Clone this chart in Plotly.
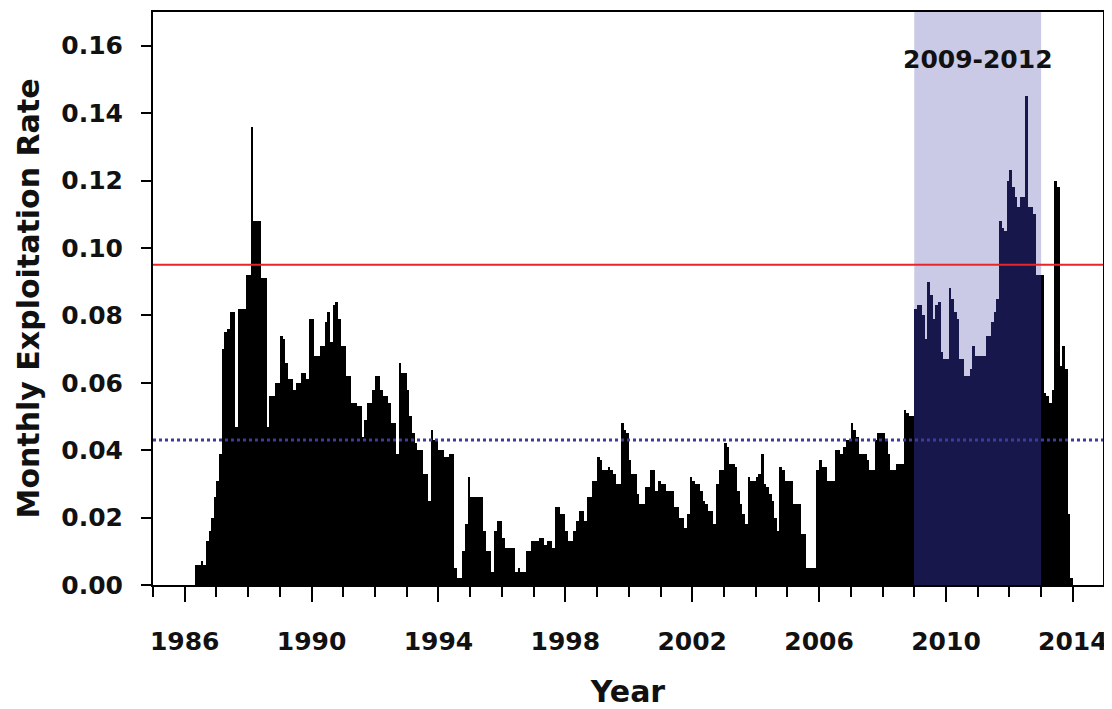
"""Taxa mensal de exploracao, 1986-2013, com o periodo 2009-2012 destacado."""

import plotly.graph_objects as go


YEARS = list(range(1986, 2014))

RATE_1986 = [0, 0, 0, 0, 0.006, 0.006, 0.007, 0.006, 0.013, 0.016, 0.020, 0.026]
RATE_1987 = [0.031, 0.039, 0.070, 0.075, 0.076, 0.081, 0.081, 0.047, 0.082, 0.082, 0.082, 0.092]
RATE_1988 = [0.092, 0.136, 0.108, 0.108, 0.108, 0.091, 0.091, 0.047, 0.056, 0.056, 0.060, 0.060]
RATE_1989 = [0.074, 0.073, 0.066, 0.061, 0.061, 0.058, 0.060, 0.060, 0.063, 0.063, 0.061, 0.079]
RATE_1990 = [0.079, 0.068, 0.068, 0.071, 0.071, 0.078, 0.081, 0.072, 0.083, 0.084, 0.079, 0.071]
RATE_1991 = [0.071, 0.062, 0.062, 0.054, 0.054, 0.053, 0.053, 0.044, 0.049, 0.054, 0.054, 0.058]
RATE_1992 = [0.062, 0.062, 0.058, 0.056, 0.056, 0.054, 0.048, 0.048, 0.039, 0.066, 0.063, 0.063]
RATE_1993 = [0.058, 0.050, 0.045, 0.042, 0.040, 0.040, 0.033, 0.033, 0.025, 0.046, 0.043, 0.043]
RATE_1994 = [0.040, 0.040, 0.038, 0.038, 0.039, 0.039, 0.005, 0.002, 0.002, 0.010, 0.018, 0.032]
RATE_1995 = [0.026, 0.026, 0.026, 0.026, 0.026, 0.016, 0.010, 0.010, 0.004, 0.016, 0.019, 0.019]
RATE_1996 = [0.014, 0.011, 0.011, 0.011, 0.011, 0.004, 0.005, 0.004, 0.004, 0.010, 0.010, 0.013]
RATE_1997 = [0.013, 0.013, 0.014, 0.014, 0.012, 0.013, 0.013, 0.011, 0.023, 0.023, 0.021, 0.021]
RATE_1998 = [0.016, 0.013, 0.013, 0.016, 0.019, 0.022, 0.022, 0.019, 0.026, 0.026, 0.031, 0.031]
RATE_1999 = [0.038, 0.037, 0.034, 0.034, 0.035, 0.034, 0.033, 0.030, 0.030, 0.048, 0.046, 0.045]
RATE_2000 = [0.037, 0.033, 0.033, 0.027, 0.024, 0.024, 0.029, 0.029, 0.034, 0.034, 0.028, 0.031]
RATE_2001 = [0.030, 0.030, 0.028, 0.028, 0.028, 0.023, 0.023, 0.020, 0.020, 0.017, 0.021, 0.032]
RATE_2002 = [0.031, 0.030, 0.030, 0.028, 0.025, 0.024, 0.022, 0.022, 0.018, 0.030, 0.034, 0.034]
RATE_2003 = [0.042, 0.041, 0.036, 0.036, 0.035, 0.028, 0.024, 0.021, 0.018, 0.032, 0.031, 0.031]
RATE_2004 = [0.032, 0.033, 0.039, 0.030, 0.029, 0.027, 0.025, 0.020, 0.016, 0.035, 0.034, 0.031]
RATE_2005 = [0.031, 0.031, 0.024, 0.024, 0.024, 0.015, 0.015, 0.005, 0.005, 0.005, 0.005, 0.034]
RATE_2006 = [0.037, 0.035, 0.035, 0.031, 0.031, 0.031, 0.040, 0.040, 0.039, 0.041, 0.043, 0.043]
RATE_2007 = [0.048, 0.046, 0.044, 0.039, 0.039, 0.039, 0.037, 0.034, 0.034, 0.043, 0.045, 0.045]
RATE_2008 = [0.045, 0.043, 0.039, 0.034, 0.034, 0.036, 0.036, 0.036, 0.052, 0.051, 0.050, 0.050]
RATE_2009 = [0.082, 0.083, 0.083, 0.080, 0.073, 0.090, 0.086, 0.079, 0.083, 0.084, 0.069, 0.067]
RATE_2010 = [0.067, 0.088, 0.085, 0.081, 0.079, 0.067, 0.067, 0.062, 0.062, 0.064, 0.071, 0.068]
RATE_2011 = [0.068, 0.068, 0.068, 0.074, 0.074, 0.078, 0.081, 0.085, 0.108, 0.106, 0.105, 0.120]
RATE_2012 = [0.123, 0.118, 0.115, 0.112, 0.115, 0.115, 0.145, 0.112, 0.112, 0.110, 0.092, 0.092]
RATE_2013 = [0.092, 0.057, 0.056, 0.054, 0.058, 0.120, 0.118, 0.065, 0.071, 0.064, 0.021, 0.002]

MONTHLY_RATES = [
    RATE_1986, RATE_1987, RATE_1988, RATE_1989, RATE_1990, RATE_1991, RATE_1992,
    RATE_1993, RATE_1994, RATE_1995, RATE_1996, RATE_1997, RATE_1998, RATE_1999,
    RATE_2000, RATE_2001, RATE_2002, RATE_2003, RATE_2004, RATE_2005, RATE_2006,
    RATE_2007, RATE_2008, RATE_2009, RATE_2010, RATE_2011, RATE_2012, RATE_2013,
]

PERIOD_START = 2009
PERIOD_END = 2013
PERIOD_LABEL = "2009-2012"
TARGET_RATE = 0.095
MEAN_RATE = 0.043

FONT = "DejaVu Sans"
BAR_COLOR = "black"
PERIOD_BAR_COLOR = "#17174c"
PERIOD_FILL = "#cacae6"

# a pagina html tem margem de 8 px no body; a figura desconta isso
PAGE_OFFSET = 8


def build_series():
    """Posicao decimal de cada mes e a taxa correspondente."""
    xs, ys, colors = [], [], []
    for year, rates in zip(YEARS, MONTHLY_RATES):
        for month, rate in enumerate(rates):
            x = year + (month + 0.5) / 12
            xs.append(x)
            ys.append(rate)
            inside = PERIOD_START <= x < PERIOD_END
            colors.append(PERIOD_BAR_COLOR if inside else BAR_COLOR)
    return xs, ys, colors


def main():
    xs, ys, colors = build_series()

    fig = go.Figure()
    fig.add_trace(
        go.Bar(
            x=xs,
            y=ys,
            width=1 / 12,
            marker=dict(color=colors, line=dict(width=0)),
            showlegend=False,
        )
    )

    fig.add_shape(
        type="rect",
        xref="x",
        yref="paper",
        x0=PERIOD_START,
        x1=PERIOD_END,
        y0=0,
        y1=1,
        fillcolor=PERIOD_FILL,
        line=dict(width=0),
        layer="below",
    )
    fig.add_hline(y=TARGET_RATE, line=dict(color="#e8262a", width=2))
    fig.add_hline(y=MEAN_RATE, line=dict(color="#3c3c9c", width=3, dash="dot"))

    fig.add_annotation(
        x=(PERIOD_START + PERIOD_END) / 2,
        y=0.156,
        text=f"<b>{PERIOD_LABEL}</b>",
        showarrow=False,
        font=dict(family=FONT, size=25, color="#111111"),
    )

    axis_common = dict(
        showline=True,
        linecolor="black",
        linewidth=2,
        mirror=True,
        ticks="outside",
        tickcolor="black",
        tickwidth=2,
        showgrid=False,
        zeroline=False,
        automargin=False,
        tickfont=dict(family=FONT, size=25, color="#111111", weight="bold"),
        title_font=dict(family=FONT, size=30, color="#111111", weight="bold"),
    )

    fig.update_xaxes(
        **axis_common,
        range=[1985, 2014.95],
        tickmode="linear",
        tick0=1986,
        dtick=4,
        ticklen=15,
        ticklabelstandoff=18,
        minor=dict(
            tick0=1986,
            dtick=1,
            ticks="outside",
            ticklen=10,
            tickwidth=2,
            tickcolor="black",
            showgrid=False,
        ),
        title_text="Year",
        title_standoff=28,
    )
    fig.update_yaxes(
        **axis_common,
        range=[0, 0.17],
        tickmode="linear",
        tick0=0,
        dtick=0.02,
        tickformat=".2f",
        ticklen=10,
        ticklabelstandoff=13,
        title_text="Monthly Exploitation Rate",
        title_standoff=13,
    )

    fig.update_layout(
        width=1112 - PAGE_OFFSET,
        height=709 - PAGE_OFFSET,
        margin=dict(l=153 - PAGE_OFFSET, r=9, t=12 - PAGE_OFFSET, b=124),
        plot_bgcolor="white",
        paper_bgcolor="white",
        bargap=0,
    )

    fig.write_html("out.html")


if __name__ == "__main__":
    main()
